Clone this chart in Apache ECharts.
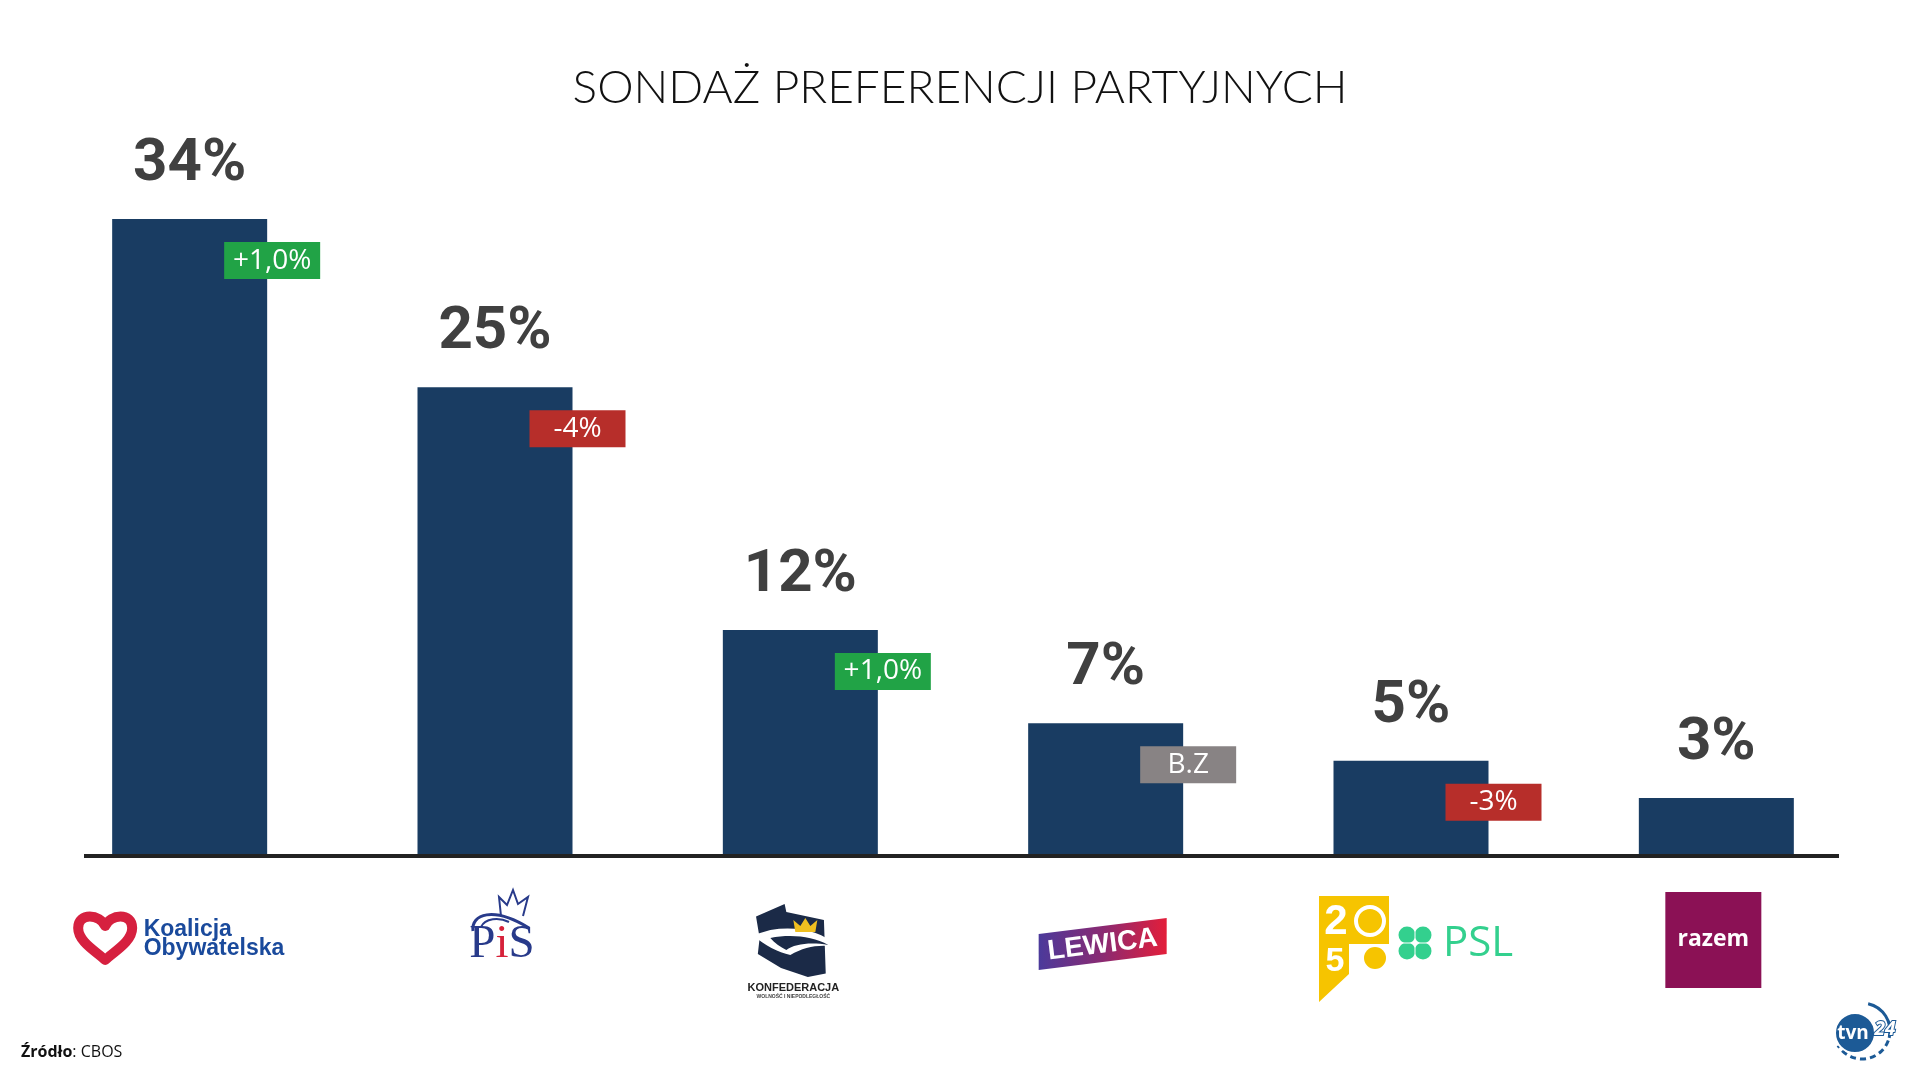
<!DOCTYPE html>
<html><head><meta charset="utf-8">
<script src="https://cdn.jsdelivr.net/npm/echarts@6/dist/echarts.min.js"></script>
<style>html,body{margin:0;padding:0;background:#fff}#c{width:1920px;height:1080px}</style>
</head><body><div id="c"></div>
<script>
// ---- data ----
const chartTitle = 'SONDAŻ PREFERENCJI PARTYJNYCH';
const parties = ['Koalicja Obywatelska', 'PiS', 'Konfederacja', 'Lewica', 'Polska 2050 + PSL', 'Razem'];
const support = [34, 25, 12, 7, 5, 3];
const changes = ['+1,0%', '-4%', '+1,0%', 'B.Z', '-3%', ''];
const sourceLabel = 'Źródło';
const sourceName = 'CBOS';

function badgeColor(t) {
  if (t.charAt(0) === '+') return '#21a346';
  if (t.charAt(0) === '-') return '#b72e2a';
  return '#888384';
}

// custom decorative shapes (logos)
const G = echarts.graphic;
G.registerShape('koHeart', G.extendPath('M 0 10 C -5 -2 -27 -4 -27 12 C -27 26 -8 36 0 44 C 8 36 27 26 27 12 C 27 -4 5 -2 0 10 Z', {}));
G.registerShape('konfWhite', G.extendPath('M -47 -8 L -30 -13 C -5 -17 20 -13 38 4 C 20 1 5 3 -10 12 C -22 9 -36 3 -47 -8 Z', {}));
G.registerShape('konfDark', G.extendPath('M -30 -5 C -10 -9 12 -7 28 2 C 10 -1 -6 1 -14 7 C -20 4 -26 0 -30 -5 Z', {}));

const chart = echarts.init(document.getElementById('c'), null, {renderer: 'canvas'});
chart.setOption({
  animation: false,
  backgroundColor: '#ffffff',
  title: {
    text: chartTitle, left: 'center', top: 60,
    textStyle: {fontFamily: 'Lato', fontWeight: 300, fontSize: 46, color: '#111111'}
  },
  grid: {left: 37, right: 51, top: 107, bottom: 226},
  xAxis: {type: 'category', data: parties, axisLine: {show: false}, axisTick: {show: false}, axisLabel: {show: false}, splitLine: {show: false}},
  yAxis: {type: 'value', min: 0, max: 40, show: false},
  series: [
    {
      type: 'bar', data: support, barWidth: 155,
      itemStyle: {color: '#193c62'},
      label: {show: true, position: 'top', distance: 24, formatter: p => p.value + '%',
        fontFamily: 'Roboto', fontWeight: 'bold', fontSize: 60, color: '#404040'}
    },
    {
      type: 'bar', barWidth: 155, barGap: '-100%', z: 3, silent: true,
      data: support.map((v, i) => ({value: v, label: {show: !!changes[i], backgroundColor: badgeColor(changes[i])}})),
      itemStyle: {color: 'rgba(0,0,0,0)'},
      label: {position: ['100%', 23], offset: [5, 0], align: 'center', verticalAlign: 'top',
        width: 96, height: 37, lineHeight: 37, formatter: p => changes[p.dataIndex],
        color: '#ffffff', fontFamily: 'Open Sans', fontSize: 28}
    }
  ]
});

// ---- decorations: axis line, logos, source, broadcaster mark ----
const cx = parties.map(p => chart.convertToPixel({xAxisIndex: 0}, p));
const y0 = chart.convertToPixel({yAxisIndex: 0}, 0);
const g = [];
g.push({type: 'line', shape: {x1: 84, y1: y0 + 2, x2: 1839, y2: y0 + 2}, style: {stroke: '#222222', lineWidth: 4}, z: 10});

// KO
(function(){
  const x = cx[0];
  g.push({type: 'koHeart', x: x - 84.5, y: 916, shape: {},
    style: {fill: '#ffffff', stroke: '#d6203f', lineWidth: 10, lineJoin: 'round'}});
  g.push({type: 'text', x: x - 46, y: 920, style: {text: 'Koalicja\nObywatelska', fill: '#1a4a9c',
    font: 'bold 23px "Liberation Sans", Arial, sans-serif', lineHeight: 19, verticalAlign: 'top', align: 'left'}});
})();

// PiS
(function(){
  const x = cx[1];
  g.push({type: 'polyline', shape: {points: [[x+6,916],[x+4,897],[x+12,905],[x+18,890],[x+23,904],[x+33,897],[x+28,916]]},
    style: {stroke: '#283a8a', lineWidth: 2, fill: null}});
  g.push({type: 'bezierCurve', shape: {x1: x-22, y1: 931, cpx1: x-24, cpy1: 914, cpx2: x-2, cpy2: 906, x2: x+34, y2: 928},
    style: {stroke: '#283a8a', lineWidth: 3, fill: null}});
  g.push({type: 'bezierCurve', shape: {x1: x-14, y1: 927, cpx1: x-10, cpy1: 918, cpx2: x+4, cpy2: 917, x2: x+14, y2: 922},
    style: {stroke: '#283a8a', lineWidth: 2, fill: null}});
  g.push({type: 'text', x: x + 7, y: 968, style: {
    text: '{a|P}{b|i}{a|S}', align: 'center', verticalAlign: 'bottom',
    rich: {a: {font: '47px "Liberation Serif", "DejaVu Serif", serif', fill: '#283a8a'},
           b: {font: '47px "Liberation Serif", "DejaVu Serif", serif', fill: '#d6213a'}}}});
})();

// Konfederacja
(function(){
  const x = cx[2];
  const pts = [[755.7,916.4],[784.3,903.9],[786,912],[823.6,920],[825.4,973.6],[807.5,977],[780.7,968],[757.5,954],[759.3,937.9]]
    .map(p => [p[0] - 800 + x, p[1]]);
  g.push({type: 'polygon', shape: {points: pts}, style: {fill: '#1b2a47'}});
  g.push({type: 'konfWhite', x: x, y: 943, shape: {}, style: {fill: '#ffffff'}});
  g.push({type: 'konfDark', x: x, y: 943, shape: {}, style: {fill: '#1b2a47'}});
  g.push({type: 'polygon', shape: {points: [[x-5,932],[x-7,920],[x,926],[x+5,918],[x+10,926],[x+17,920],[x+15,932]]}, style: {fill: '#f0c020'}});
  g.push({type: 'text', x: x - 7, y: 988, style: {text: 'KONFEDERACJA', align: 'center', verticalAlign: 'middle',
    font: 'bold 11px "Liberation Sans", Arial, sans-serif', fill: '#222222'}});
  g.push({type: 'text', x: x - 7, y: 997, style: {text: 'WOLNOŚĆ I NIEPODLEGŁOŚĆ', align: 'center', verticalAlign: 'middle',
    font: 'bold 5px "Liberation Sans", Arial, sans-serif', fill: '#444444'}});
})();

// Lewica
(function(){
  const x = cx[3];
  g.push({type: 'polygon', shape: {points: [[x-67,934],[x+61,918],[x+61,954],[x-67,970]]},
    style: {fill: new G.LinearGradient(0, 0, 1, 0, [{offset: 0, color: '#4b3a9b'}, {offset: 0.5, color: '#8a2a72'}, {offset: 1, color: '#e31e3a'}])}});
  g.push({type: 'text', x: x - 3, y: 945, rotation: 0.124, style: {text: 'LEWICA', align: 'center', verticalAlign: 'middle',
    font: 'bold 28px "Liberation Sans", Arial, sans-serif', fill: '#ffffff'}});
})();

// Polska 2050 + PSL
(function(){
  const x = cx[4];
  const L = x - 92;
  g.push({type: 'polygon', shape: {points: [[L,896],[L+70,896],[L+70,944],[L+30,944],[L+30,974],[L,1002]]}, style: {fill: '#f6c400'}});
  g.push({type: 'text', x: L + 17, y: 922, style: {text: '2', align: 'center', verticalAlign: 'middle',
    font: 'bold 42px "Liberation Sans", Arial, sans-serif', fill: '#ffffff'}});
  g.push({type: 'circle', shape: {cx: L + 51, cy: 921, r: 14}, style: {fill: '#f6c400', stroke: '#ffffff', lineWidth: 4}});
  g.push({type: 'text', x: L + 16, y: 962, style: {text: '5', align: 'center', verticalAlign: 'middle',
    font: 'bold 34px "Liberation Sans", Arial, sans-serif', fill: '#ffffff'}});
  g.push({type: 'circle', shape: {cx: L + 56, cy: 958, r: 11}, style: {fill: '#f6c400'}});
  const c = {x: x + 4, y: 943};
  [[-8,-8],[8,-8],[-8,8],[8,8]].forEach(o => g.push({type: 'circle', shape: {cx: c.x + o[0], cy: c.y + o[1], r: 8.5}, style: {fill: '#33d08e'}}));
  g.push({type: 'line', shape: {x1: c.x - 17, y1: c.y, x2: c.x + 17, y2: c.y}, style: {stroke: '#ffffff', lineWidth: 1}});
  g.push({type: 'line', shape: {x1: c.x, y1: c.y - 17, x2: c.x, y2: c.y + 17}, style: {stroke: '#ffffff', lineWidth: 1}});
  g.push({type: 'text', x: x + 32, y: 944, style: {text: 'PSL', align: 'left', verticalAlign: 'middle',
    font: '42px "Open Sans", sans-serif', fill: '#33d08e'}});
})();

// Razem
(function(){
  const x = cx[5];
  g.push({type: 'rect', shape: {x: x - 51, y: 892, width: 96, height: 96}, style: {fill: '#8b1155'}});
  g.push({type: 'text', x: x - 3, y: 939, style: {text: 'razem', align: 'center', verticalAlign: 'middle',
    font: 'bold 23px "Open Sans", sans-serif', fill: '#ffffff'}});
})();

// source
g.push({type: 'text', x: 21, y: 1060, style: {text: '{b|' + sourceLabel + '}{r|: ' + sourceName + '}', verticalAlign: 'bottom', align: 'left',
  rich: {b: {font: 'bold 16px "Open Sans", sans-serif', fill: '#111111'}, r: {font: '16px "Open Sans", sans-serif', fill: '#111111'}}}});

// tvn24 mark
g.push({type: 'arc', shape: {cx: 1862, cy: 1031, r: 28, startAngle: -1.35, endAngle: 0.25, clockwise: true}, style: {stroke: '#1c5a96', lineWidth: 3, fill: null}});
g.push({type: 'arc', shape: {cx: 1862, cy: 1031, r: 28, startAngle: 0.35, endAngle: 2.6, clockwise: true}, style: {stroke: '#1c5a96', lineWidth: 3, fill: null, lineDash: [6, 4]}});
g.push({type: 'circle', shape: {cx: 1855, cy: 1033, r: 20}, style: {fill: '#1c5a96', stroke: '#ffffff', lineWidth: 2}});
g.push({type: 'text', x: 1853, y: 1034, style: {text: 'tvn', align: 'center', verticalAlign: 'middle', font: 'bold 19px "Open Sans", sans-serif', fill: '#ffffff'}});
g.push({type: 'text', x: 1885, y: 1030, style: {text: '24', align: 'center', verticalAlign: 'middle', font: 'italic bold 19px "Open Sans", sans-serif', fill: '#ffffff', stroke: '#1c5a96', lineWidth: 2}});

chart.setOption({graphic: g});
</script>
</body></html>
